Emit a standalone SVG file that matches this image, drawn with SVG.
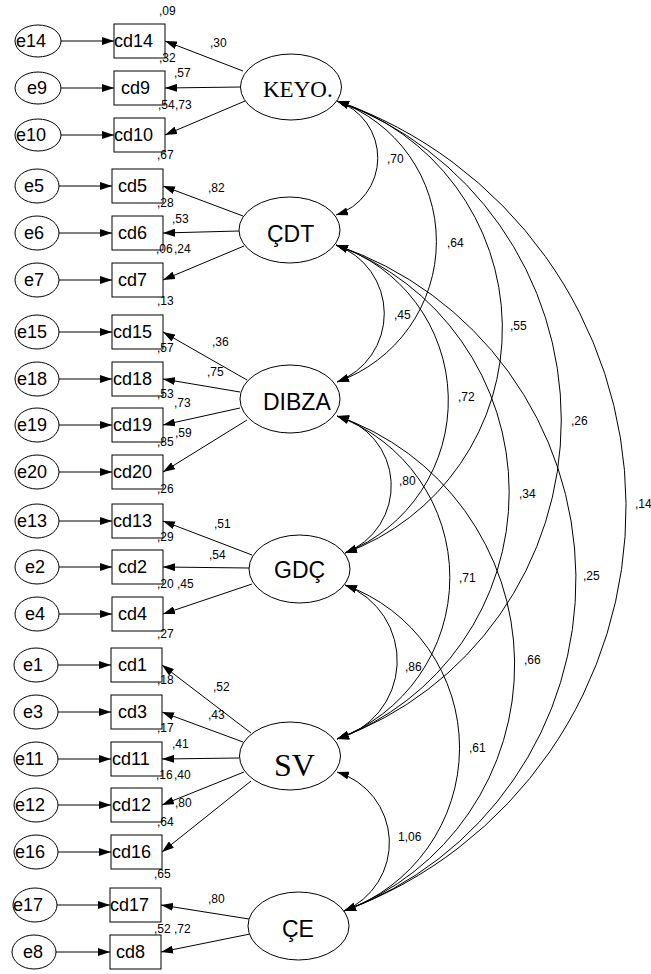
<svg xmlns="http://www.w3.org/2000/svg" width="651" height="974" viewBox="0 0 651 974">
<style>
.bg{fill:#fff}
.lat{fill:#fff;stroke:#000;stroke-width:1}
.err{fill:#fff;stroke:#000;stroke-width:1}
.box{fill:#fff;stroke:#000;stroke-width:1}
.ln{fill:none;stroke:#000;stroke-width:1}
.t{font-family:"Liberation Sans",Arial,sans-serif;font-size:18px;fill:#000}
.n{font-family:"Liberation Sans",Arial,sans-serif;font-size:12px;fill:#000}
.ls{font-family:"Liberation Sans",Arial,sans-serif;font-size:23px;fill:#000}
.lr{font-family:"Liberation Serif","Times New Roman",serif;fill:#000}
</style>
<defs>
<marker id="ah" markerUnits="userSpaceOnUse" markerWidth="12" markerHeight="8" viewBox="0 0 12 8" refX="12" refY="4" orient="auto-start-reverse">
<path d="M0,0 L12,4 L0,8 z" fill="#000"/>
</marker>
</defs>
<rect class="bg" x="0" y="0" width="651" height="974"/>

<g id="connectors">
<g class="ln" marker-end="url(#ah)">
<line x1="61" y1="41" x2="114" y2="41"/>
<line x1="61" y1="88" x2="114" y2="88"/>
<line x1="61" y1="135" x2="114" y2="135"/>
<line x1="59" y1="186" x2="112" y2="186"/>
<line x1="59" y1="233" x2="112" y2="233"/>
<line x1="59" y1="280" x2="112" y2="280"/>
<line x1="59" y1="332" x2="112" y2="332"/>
<line x1="59" y1="379" x2="112" y2="379"/>
<line x1="59" y1="425" x2="112" y2="425"/>
<line x1="59" y1="472" x2="112" y2="472"/>
<line x1="59" y1="521" x2="112" y2="521"/>
<line x1="59" y1="567" x2="112" y2="567"/>
<line x1="59" y1="614" x2="112" y2="614"/>
<line x1="58" y1="665" x2="111" y2="665"/>
<line x1="58" y1="712" x2="111" y2="712"/>
<line x1="58" y1="759" x2="111" y2="759"/>
<line x1="58" y1="805" x2="111" y2="805"/>
<line x1="58" y1="852" x2="111" y2="852"/>
<line x1="57" y1="905" x2="110" y2="905"/>
<line x1="56" y1="952" x2="110" y2="952"/>
</g>
<g class="ln" marker-end="url(#ah)">
<line x1="243" y1="71" x2="165" y2="41"/>
<line x1="241" y1="87" x2="165" y2="88"/>
<line x1="245" y1="101" x2="165" y2="135"/>
<line x1="243" y1="216" x2="163" y2="186"/>
<line x1="239" y1="231" x2="163" y2="233"/>
<line x1="244" y1="246" x2="163" y2="280"/>
<line x1="247" y1="380" x2="163" y2="332"/>
<line x1="240" y1="392" x2="163" y2="379"/>
<line x1="240" y1="408" x2="163" y2="425"/>
<line x1="247" y1="420" x2="163" y2="472"/>
<line x1="252" y1="555" x2="163" y2="521"/>
<line x1="249" y1="568" x2="163" y2="567"/>
<line x1="252" y1="584" x2="163" y2="614"/>
<line x1="251" y1="733" x2="162" y2="665"/>
<line x1="243" y1="742" x2="162" y2="712"/>
<line x1="239" y1="758" x2="162" y2="759"/>
<line x1="244" y1="772" x2="162" y2="805"/>
<line x1="251" y1="781" x2="162" y2="852"/>
<line x1="249" y1="919" x2="161" y2="905"/>
<line x1="250" y1="934" x2="161" y2="952"/>
</g>
<g class="ln" marker-start="url(#ah)" marker-end="url(#ah)">
<path d="M337,101 A60,60 0 0 1 336,215"/>
<path d="M337,101 A149,149 0 0 1 337,382"/>
<path d="M337,101 A239,239 0 0 1 345,553"/>
<path d="M337,101 A339,339 0 0 1 337,739"/>
<path d="M337,101 A430,430 0 0 1 344,911"/>
<path d="M336,245 A73,73 0 0 1 337,382"/>
<path d="M336,245 A164,164 0 0 1 345,553"/>
<path d="M336,245 A263,263 0 0 1 337,739"/>
<path d="M336,245 A353,353 0 0 1 344,911"/>
<path d="M337,416 A72,72 0 0 1 345,553"/>
<path d="M337,416 A172,172 0 0 1 337,739"/>
<path d="M337,416 A263,263 0 0 1 344,911"/>
<path d="M345,585 A81,81 0 0 1 337,739"/>
<path d="M345,585 A173,173 0 0 1 344,911"/>
<path d="M337,772 A74,74 0 0 1 344,911"/>
</g>
</g>

<g id="KEYO"><ellipse class="lat" cx="291" cy="87" rx="50.5" ry="33"/><text class="lr" x="263" y="97" font-size="23">KEYO.</text></g>
<g id="CDT"><ellipse class="lat" cx="289.5" cy="230" rx="50.5" ry="33"/><text class="ls" x="267" y="242">ÇDT</text></g>
<g id="DIBZA"><ellipse class="lat" cx="290" cy="399" rx="50" ry="34"/><text class="ls" x="263" y="410">DIBZA</text></g>
<g id="GDC"><ellipse class="lat" cx="299.5" cy="569" rx="50.5" ry="34"/><text class="ls" x="274" y="578">GDÇ</text></g>
<g id="SV"><ellipse class="lat" cx="290" cy="756" rx="50.5" ry="34"/><text class="lr" x="274" y="776" font-size="32">SV</text></g>
<g id="CE"><ellipse class="lat" cx="298.5" cy="926" rx="50.5" ry="34"/><text class="ls" x="282" y="937">ÇE</text></g>

<g id="cd14"><rect class="box" x="114" y="24" width="51" height="34"/><text class="t" x="114" y="47">cd14</text></g>
<g id="cd9"><rect class="box" x="114" y="71" width="51" height="34"/><text class="t" x="121" y="94">cd9</text></g>
<g id="cd10"><rect class="box" x="114" y="118" width="51" height="34"/><text class="t" x="114" y="141">cd10</text></g>
<g id="cd5"><rect class="box" x="112" y="169" width="51" height="34"/><text class="t" x="118" y="192">cd5</text></g>
<g id="cd6"><rect class="box" x="112" y="216" width="51" height="34"/><text class="t" x="118" y="239">cd6</text></g>
<g id="cd7"><rect class="box" x="112" y="263" width="51" height="34"/><text class="t" x="118" y="286">cd7</text></g>
<g id="cd15"><rect class="box" x="112" y="315" width="51" height="34"/><text class="t" x="113" y="338">cd15</text></g>
<g id="cd18"><rect class="box" x="112" y="362" width="51" height="34"/><text class="t" x="113" y="385">cd18</text></g>
<g id="cd19"><rect class="box" x="112" y="408" width="51" height="34"/><text class="t" x="113" y="431">cd19</text></g>
<g id="cd20"><rect class="box" x="112" y="455" width="51" height="34"/><text class="t" x="113" y="478">cd20</text></g>
<g id="cd13"><rect class="box" x="112" y="504" width="51" height="34"/><text class="t" x="113" y="527">cd13</text></g>
<g id="cd2"><rect class="box" x="112" y="550" width="51" height="34"/><text class="t" x="118" y="573">cd2</text></g>
<g id="cd4"><rect class="box" x="112" y="597" width="51" height="34"/><text class="t" x="118" y="620">cd4</text></g>
<g id="cd1"><rect class="box" x="111" y="648" width="51" height="34"/><text class="t" x="118" y="671">cd1</text></g>
<g id="cd3"><rect class="box" x="111" y="695" width="51" height="34"/><text class="t" x="118" y="718">cd3</text></g>
<g id="cd11"><rect class="box" x="111" y="742" width="51" height="34"/><text class="t" x="112" y="765">cd11</text></g>
<g id="cd12"><rect class="box" x="111" y="788" width="51" height="34"/><text class="t" x="112" y="811">cd12</text></g>
<g id="cd16"><rect class="box" x="111" y="835" width="51" height="34"/><text class="t" x="112" y="858">cd16</text></g>
<g id="cd17"><rect class="box" x="110" y="888" width="51" height="34"/><text class="t" x="110" y="911">cd17</text></g>
<g id="cd8"><rect class="box" x="110" y="935" width="51" height="34"/><text class="t" x="116" y="958">cd8</text></g>

<g id="e14"><ellipse class="err" cx="38" cy="41" rx="23" ry="16"/><text class="t" x="16" y="47">e14</text></g>
<g id="e9"><ellipse class="err" cx="38" cy="88" rx="23" ry="16"/><text class="t" x="27" y="94">e9</text></g>
<g id="e10"><ellipse class="err" cx="38" cy="135" rx="23" ry="16"/><text class="t" x="16" y="141">e10</text></g>
<g id="e5"><ellipse class="err" cx="37" cy="186" rx="22" ry="17"/><text class="t" x="24" y="192">e5</text></g>
<g id="e6"><ellipse class="err" cx="37" cy="233" rx="22" ry="17"/><text class="t" x="24" y="239">e6</text></g>
<g id="e7"><ellipse class="err" cx="37" cy="280" rx="22" ry="17"/><text class="t" x="24" y="286">e7</text></g>
<g id="e15"><ellipse class="err" cx="37" cy="332" rx="22" ry="17"/><text class="t" x="17" y="338">e15</text></g>
<g id="e18"><ellipse class="err" cx="37" cy="379" rx="22" ry="17"/><text class="t" x="17" y="385">e18</text></g>
<g id="e19"><ellipse class="err" cx="37" cy="425" rx="22" ry="17"/><text class="t" x="17" y="431">e19</text></g>
<g id="e20"><ellipse class="err" cx="37" cy="472" rx="22" ry="17"/><text class="t" x="17" y="478">e20</text></g>
<g id="e13"><ellipse class="err" cx="37" cy="521" rx="22" ry="17"/><text class="t" x="17" y="527">e13</text></g>
<g id="e2"><ellipse class="err" cx="37" cy="567" rx="22" ry="17"/><text class="t" x="25" y="573">e2</text></g>
<g id="e4"><ellipse class="err" cx="37" cy="614" rx="22" ry="17"/><text class="t" x="25" y="620">e4</text></g>
<g id="e1"><ellipse class="err" cx="36" cy="665" rx="22" ry="17"/><text class="t" x="23" y="671">e1</text></g>
<g id="e3"><ellipse class="err" cx="36" cy="712" rx="22" ry="17"/><text class="t" x="23" y="718">e3</text></g>
<g id="e11"><ellipse class="err" cx="36" cy="759" rx="22" ry="17"/><text class="t" x="15" y="765">e11</text></g>
<g id="e12"><ellipse class="err" cx="36" cy="805" rx="22" ry="17"/><text class="t" x="15" y="811">e12</text></g>
<g id="e16"><ellipse class="err" cx="36" cy="852" rx="22" ry="17"/><text class="t" x="15" y="858">e16</text></g>
<g id="e17"><ellipse class="err" cx="35" cy="905" rx="22" ry="17"/><text class="t" x="13" y="911">e17</text></g>
<g id="e8"><ellipse class="err" cx="34" cy="952" rx="22" ry="17"/><text class="t" x="23" y="958">e8</text></g>

<g id="labels">
<text class="n" x="159" y="15">,09</text>
<text class="n" x="210" y="47">,30</text>
<text class="n" x="159" y="62">,32</text>
<text class="n" x="174" y="77">,57</text>
<text class="n" x="158" y="109">,54</text>
<text class="n" x="175" y="109">,73</text>
<text class="n" x="157" y="159">,67</text>
<text class="n" x="208" y="192">,82</text>
<text class="n" x="157" y="207">,28</text>
<text class="n" x="172" y="223">,53</text>
<text class="n" x="156" y="253">,06</text>
<text class="n" x="174" y="253">,24</text>
<text class="n" x="157" y="305">,13</text>
<text class="n" x="212" y="346">,36</text>
<text class="n" x="157" y="352">,57</text>
<text class="n" x="207" y="376">,75</text>
<text class="n" x="157" y="398">,53</text>
<text class="n" x="174" y="407">,73</text>
<text class="n" x="175" y="437">,59</text>
<text class="n" x="157" y="446">,85</text>
<text class="n" x="157" y="493">,26</text>
<text class="n" x="214" y="528">,51</text>
<text class="n" x="157" y="541">,29</text>
<text class="n" x="209" y="559">,54</text>
<text class="n" x="157" y="588">,20</text>
<text class="n" x="177" y="588">,45</text>
<text class="n" x="157" y="638">,27</text>
<text class="n" x="157" y="684">,18</text>
<text class="n" x="213" y="691">,52</text>
<text class="n" x="208" y="719">,43</text>
<text class="n" x="157" y="732">,17</text>
<text class="n" x="172" y="748">,41</text>
<text class="n" x="156" y="779">,16</text>
<text class="n" x="174" y="779">,40</text>
<text class="n" x="175" y="807">,80</text>
<text class="n" x="157" y="826">,64</text>
<text class="n" x="154" y="878">,65</text>
<text class="n" x="208" y="903">,80</text>
<text class="n" x="154" y="933">,52</text>
<text class="n" x="174" y="933">,72</text>
<text class="n" x="387" y="163">,70</text>
<text class="n" x="447" y="247">,64</text>
<text class="n" x="394" y="319">,45</text>
<text class="n" x="510" y="330">,55</text>
<text class="n" x="458" y="401">,72</text>
<text class="n" x="571" y="425">,26</text>
<text class="n" x="399" y="485">,80</text>
<text class="n" x="519" y="498">,34</text>
<text class="n" x="635" y="508">,14</text>
<text class="n" x="459" y="582">,71</text>
<text class="n" x="583" y="580">,25</text>
<text class="n" x="405" y="671">,86</text>
<text class="n" x="524" y="664">,66</text>
<text class="n" x="469" y="752">,61</text>
<text class="n" x="398" y="841">1,06</text>
</g>
</svg>
